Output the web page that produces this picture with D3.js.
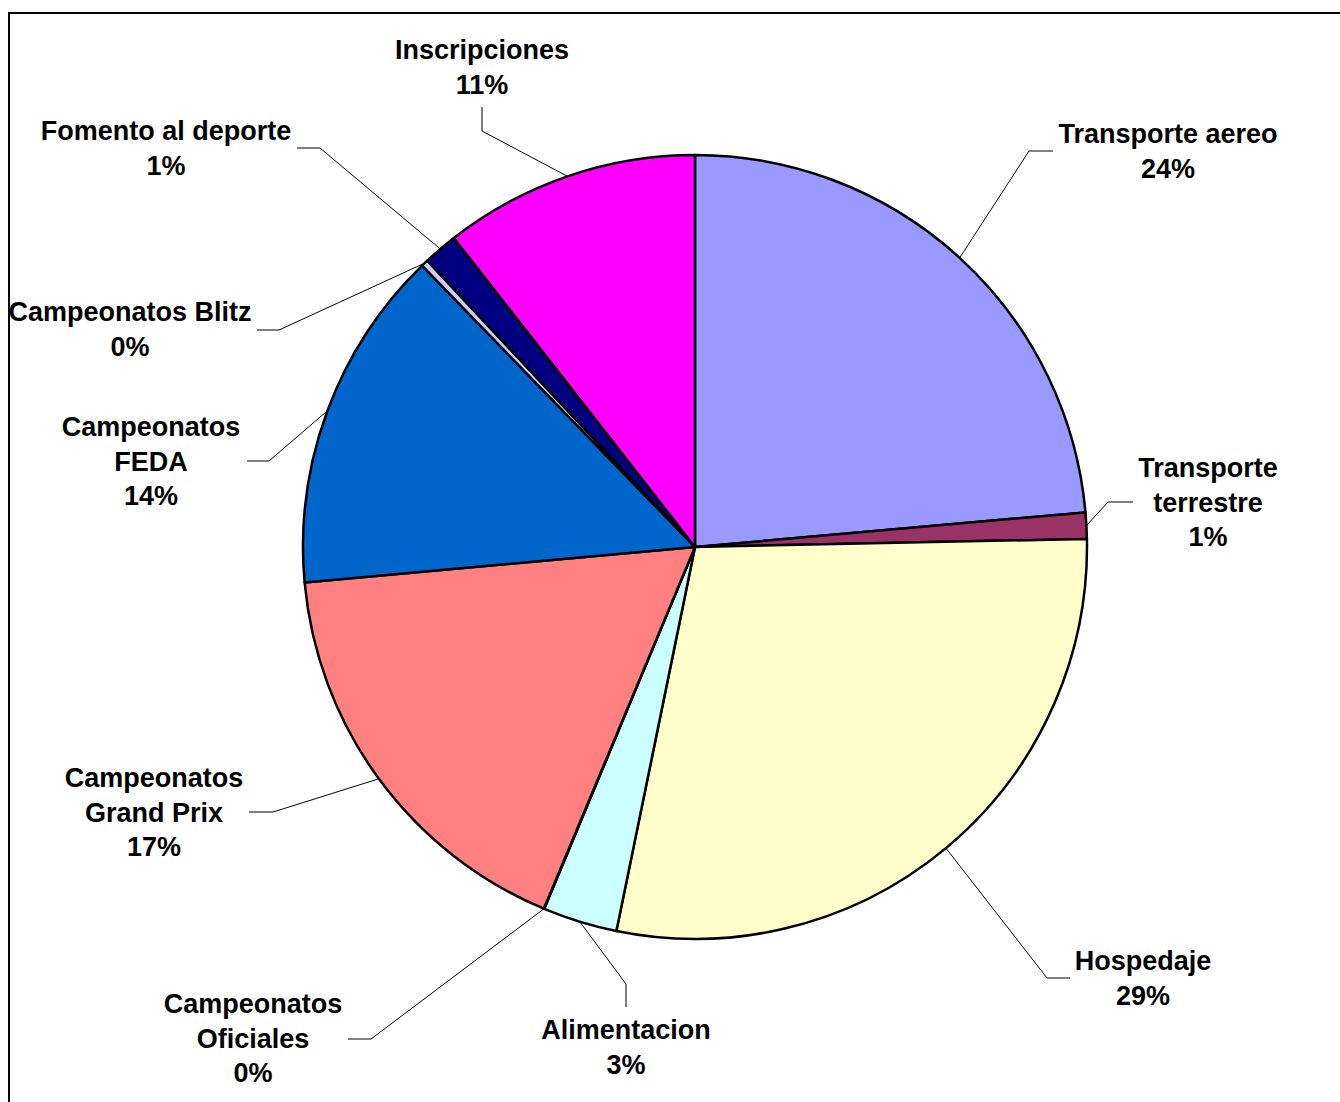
<!DOCTYPE html>
<html>
<head>
<meta charset="utf-8">
<script src="https://cdn.jsdelivr.net/npm/d3@7"></script>
<style>
  html, body { margin: 0; padding: 0; background: #fff; }
  svg { display: block; }
  text { font-family: "Liberation Sans", Arial, sans-serif; font-weight: bold; fill: #000; }
</style>
</head>
<body>
<div id="chart"></div>
<script>
// ---- data ----
const categories = [
  "Transporte aereo", "Transporte terrestre", "Hospedaje", "Alimentacion",
  "Campeonatos Oficiales", "Campeonatos Grand Prix", "Campeonatos FEDA",
  "Campeonatos Blitz", "Fomento al deporte", "Inscripciones"
];
const values = [23.6, 1.08, 28.55, 3.07, 0.02, 17.26, 14.19, 0.29, 1.42, 10.55];
const colors = ["#9999FF", "#993366", "#FFFFCC", "#CCFFFF", "#660066",
                "#FF8080", "#0066CC", "#CCCCFF", "#000080", "#FF00FF"];

// ---- layout (label placement, not data) ----
const W = 1340, H = 1102;
const cx = 695, cy = 547, R = 392;
const lineH = 34.5;
const labelLayout = {
  "Transporte aereo":       { x: 1168, y: 143, wrap: false, leader: [[1053, 151], [1029, 151]] },
  "Transporte terrestre":   { x: 1208, y: 477, wrap: true,  leader: [[1133, 502], [1108, 502]] },
  "Hospedaje":              { x: 1143, y: 970, wrap: false, leader: [[1070, 978], [1047, 978]] },
  "Alimentacion":           { x: 626,  y: 1039, wrap: false, leader: [[626, 1007], [626, 984]] },
  "Campeonatos Oficiales":  { x: 253,  y: 1013, wrap: true,  leader: [[348, 1039], [371, 1039]] },
  "Campeonatos Grand Prix": { x: 154,  y: 787, wrap: true,  leader: [[249, 812], [273, 812]] },
  "Campeonatos FEDA":       { x: 151,  y: 436, wrap: true,  leader: [[247, 461], [269, 461]] },
  "Campeonatos Blitz":      { x: 130,  y: 321, wrap: false, leader: [[257, 330], [279, 330]] },
  "Fomento al deporte":     { x: 166,  y: 140, wrap: false, leader: [[297, 148], [320, 148]] },
  "Inscripciones":          { x: 482,  y: 59,  wrap: false, leader: [[482, 107], [482, 131]] }
};

const svg = d3.select("#chart").append("svg")
  .attr("width", W).attr("height", H);

svg.append("rect").attr("width", W).attr("height", H).attr("fill", "#fff");

// frame
svg.append("rect")
  .attr("x", 9).attr("y", 13).attr("width", W + 50).attr("height", H + 50)
  .attr("fill", "none").attr("stroke", "#000").attr("stroke-width", 2);

const data = categories.map((c, i) => ({ name: c, value: values[i], color: colors[i] }));
const total = d3.sum(values);

const pie = d3.pie().sort(null).value(d => d.value);
const arcs = pie(data);
const arc = d3.arc().innerRadius(0).outerRadius(R);

const g = svg.append("g").attr("transform", `translate(${cx},${cy})`);

g.selectAll("path.slice").data(arcs).enter().append("path")
  .attr("class", "slice")
  .attr("d", arc)
  .attr("fill", d => d.data.color)
  .attr("stroke", "#000")
  .attr("stroke-width", 2.5)
  .attr("stroke-linejoin", "round");

// leader lines
const line = d3.line();
arcs.forEach(a => {
  const L = labelLayout[a.data.name];
  const mid = (a.startAngle + a.endAngle) / 2;
  const edge = [cx + R * Math.sin(mid), cy - R * Math.cos(mid)];
  const pts = L.leader.concat([edge]);
  svg.append("path")
    .attr("d", line(pts))
    .attr("fill", "none")
    .attr("stroke", "#000")
    .attr("stroke-width", 1);
});

// labels
arcs.forEach(a => {
  const L = labelLayout[a.data.name];
  const name = a.data.name;
  let lines;
  if (L.wrap) {
    const i = name.indexOf(" ");
    lines = [name.slice(0, i), name.slice(i + 1)];
  } else {
    lines = [name];
  }
  lines.push(Math.round(a.data.value / total * 100) + "%");
  const t = svg.append("text")
    .attr("x", L.x).attr("y", L.y)
    .attr("text-anchor", "middle")
    .style("font-size", "27px");
  lines.forEach((s, k) => {
    t.append("tspan").attr("x", L.x).attr("y", L.y + k * lineH).text(s);
  });
});
</script>
</body>
</html>
